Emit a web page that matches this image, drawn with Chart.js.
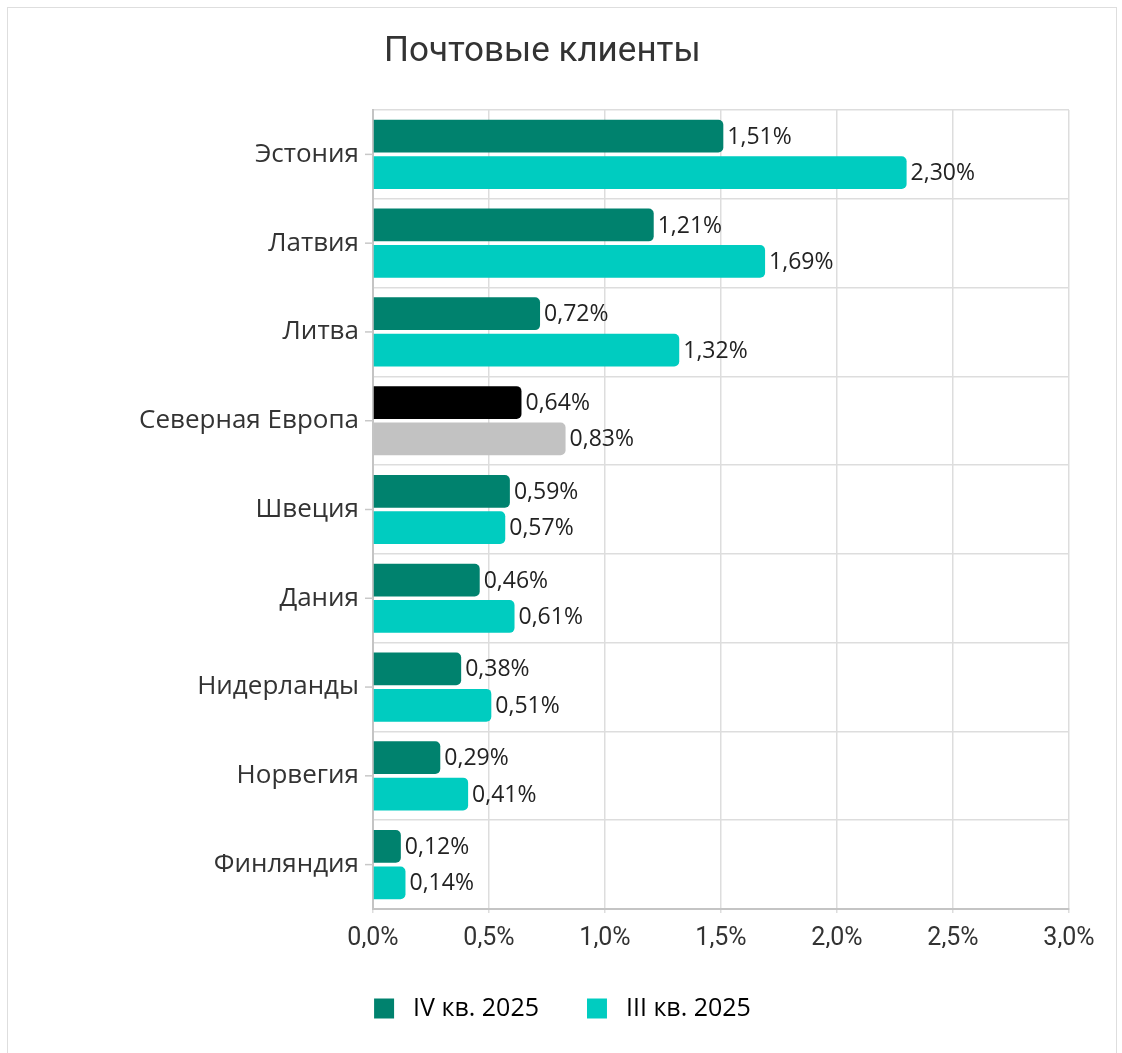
<!DOCTYPE html>
<html>
<head>
<meta charset="utf-8">
<script src="https://cdn.jsdelivr.net/npm/chart.js@4.4.1/dist/chart.umd.min.js"></script>
<style>
  html, body { margin: 0; padding: 0; background: #fff; }
  #frame { position: absolute; left: 7px; top: 7px; width: 1110px; height: 1060px; border: 1px solid #dedede; box-sizing: border-box; }
  #wrap { position: absolute; left: 0; top: 0; width: 1122px; height: 1053px; }
</style>
</head>
<body>
<div id="frame"></div>
<div id="wrap"><canvas id="chart" width="1122" height="1053"></canvas></div>
<script>
const chartTitle = 'Почтовые клиенты';
const countries = ['Эстония', 'Латвия', 'Литва', 'Северная Европа', 'Швеция', 'Дания', 'Нидерланды', 'Норвегия', 'Финляндия'];
const seriesNames = ['IV кв. 2025', 'III кв. 2025'];
const q4Values = [1.51, 1.21, 0.72, 0.64, 0.59, 0.46, 0.38, 0.29, 0.12];
const q3Values = [2.30, 1.69, 1.32, 0.83, 0.57, 0.61, 0.51, 0.41, 0.14];
const xTicks = [0, 0.5, 1.0, 1.5, 2.0, 2.5, 3.0];

const darkGreen = '#00826E';
const cyan = '#00CCC0';
const highlightIdx = countries.indexOf('Северная Европа');

const fmt = (v, d) => v.toFixed(d).replace('.', ',') + '%';
const FONT = '"Open Sans", Roboto, sans-serif';
const TICK_FONT = 'Roboto, "Open Sans", sans-serif';

// value labels at the end of each bar
const barLabels = {
  id: 'barLabels',
  afterDatasetsDraw(chart) {
    const ctx = chart.ctx;
    ctx.save();
    ctx.font = '23px ' + FONT;
    ctx.fillStyle = '#222';
    ctx.textBaseline = 'middle';
    ctx.textAlign = 'left';
    chart.data.datasets.forEach((ds, i) => {
      chart.getDatasetMeta(i).data.forEach((bar, j) => {
        ctx.fillText(fmt(ds.data[j], 2), bar.x + 4, bar.y + 1);
      });
    });
    ctx.restore();
  }
};

// title + small ticks at category centres
const extras = {
  id: 'extras',
  afterDraw(chart) {
    const ctx = chart.ctx;
    const area = chart.chartArea;
    const y = chart.scales.y;
    ctx.save();
    ctx.font = '35px ' + TICK_FONT;
    ctx.fillStyle = '#333';
    ctx.textBaseline = 'middle';
    ctx.fillText(chartTitle, area.left + 11, 52);
    ctx.strokeStyle = '#c8c8c8';
    ctx.lineWidth = 1.5;
    countries.forEach((c, i) => {
      const py = y.getPixelForValue(i);
      ctx.beginPath();
      ctx.moveTo(area.left - 8, py);
      ctx.lineTo(area.left, py);
      ctx.stroke();
    });
    ctx.restore();
  }
};

new Chart(document.getElementById('chart'), {
  type: 'bar',
  data: {
    labels: countries,
    datasets: [
      {
        label: seriesNames[0],
        data: q4Values,
        backgroundColor: countries.map((c, i) => i === highlightIdx ? '#000000' : darkGreen),
        borderRadius: 5,
        borderSkipped: 'start'
      },
      {
        label: seriesNames[1],
        data: q3Values,
        backgroundColor: countries.map((c, i) => i === highlightIdx ? '#C2C2C2' : cyan),
        borderRadius: 5,
        borderSkipped: 'start'
      }
    ]
  },
  options: {
    indexAxis: 'y',
    responsive: false,
    animation: false,
    categoryPercentage: 0.82,
    barPercentage: 0.9,
    layout: { padding: { left: 56, right: 53, top: 110, bottom: 22 } },
    scales: {
      x: {
        min: 0,
        max: 3,
        afterBuildTicks(scale) { scale.ticks = xTicks.map(v => ({ value: v })); },
        grid: { color: '#dddddd', lineWidth: 1.5, tickLength: 4 },
        border: { color: '#c4c4c4', width: 2 },
        ticks: {
          font: { size: 25, family: TICK_FONT },
          color: '#333',
          padding: 11,
          callback: v => fmt(v, 1)
        },
        afterFit(scale) { scale.height = 39; }
      },
      y: {
        grid: { color: '#dddddd', lineWidth: 1.5, drawTicks: false, offset: true },
        border: { color: '#c4c4c4', width: 2 },
        ticks: { font: { size: 26, family: FONT }, color: '#333', padding: 14 },
        afterFit(scale) { scale.width = 317; }
      }
    },
    plugins: {
      legend: {
        position: 'bottom',
        labels: {
          font: { size: 25, family: FONT },
          color: '#333',
          boxWidth: 20,
          boxHeight: 20,
          padding: 48,
          useBorderRadius: false,
          generateLabels(chart) {
            return seriesNames.map((n, i) => ({
              text: ' ' + n,
              fillStyle: i === 0 ? darkGreen : cyan,
              strokeStyle: i === 0 ? darkGreen : cyan,
              lineWidth: 0,
              datasetIndex: i
            }));
          }
        }
      },
      tooltip: { enabled: false }
    }
  },
  plugins: [barLabels, extras]
});
</script>
</body>
</html>
